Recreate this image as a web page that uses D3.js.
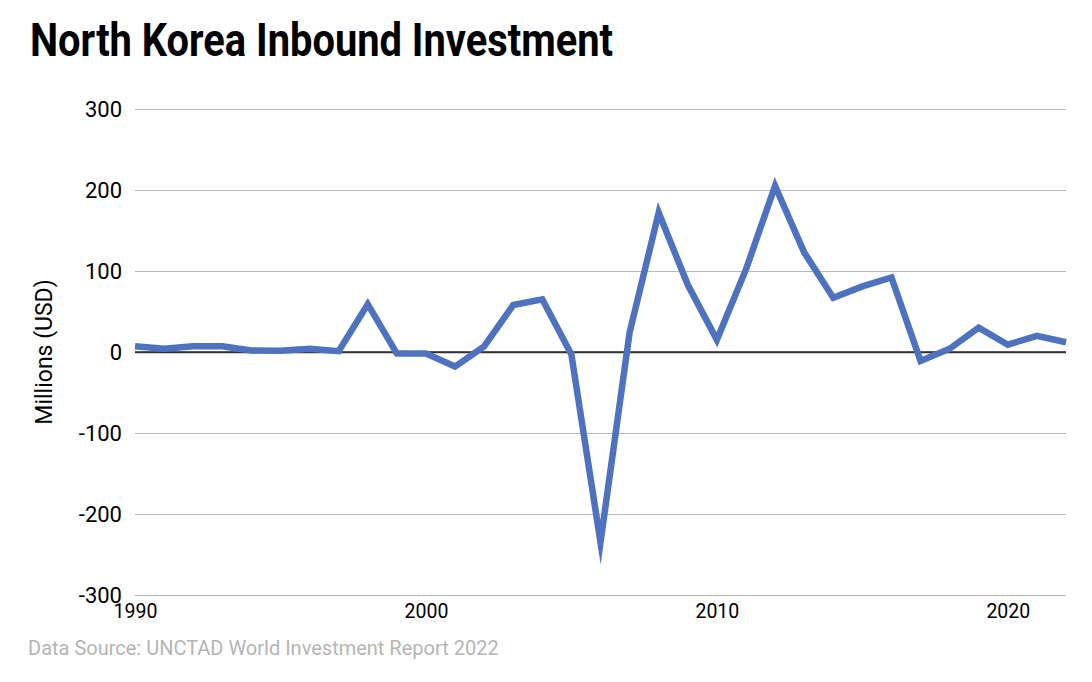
<!DOCTYPE html>
<html>
<head>
<meta charset="utf-8">
<script src="https://cdn.jsdelivr.net/npm/d3@7"></script>
<style>
  body { margin: 0; background: #fff; }
  text { font-family: Roboto, "Noto Sans", sans-serif; }
</style>
</head>
<body>
<div id="chart"></div>
<script>
// data (millions USD)
var years = [1990, 1991, 1992, 1993, 1994, 1995, 1996, 1997, 1998, 1999,
             2000, 2001, 2002, 2003, 2004, 2005, 2006, 2007, 2008, 2009,
             2010, 2011, 2012, 2013, 2014, 2015, 2016, 2017, 2018, 2019,
             2020, 2021, 2022];
var inflows = [7, 4, 7, 7, 2, 1.5, 4, 1, 59, -2,
               -2, -18, 7, 58, 65, -3, -235, 24, 172, 83,
               15, 102, 205, 123, 67, 81, 92, -11, 4, 30,
               9, 20, 12];
var yTicks = [-300, -200, -100, 0, 100, 200, 300];
var xTicks = [1990, 2000, 2010, 2020];

var W = 1092, H = 682;
var margin = {top: 109, right: 26, bottom: 87, left: 135},
    width = W - margin.left - margin.right,
    height = H - margin.top - margin.bottom;

var root = d3.select("#chart").append("svg")
    .attr("width", W)
    .attr("height", H);

// title, squeezed to look like the condensed face of the original
root.append("text")
    .attr("x", 30)
    .attr("y", 56)
    .attr("font-size", 46)
    .attr("font-weight", 700)
    .attr("textLength", 583)
    .attr("lengthAdjust", "spacingAndGlyphs")
    .attr("fill", "#000")
    .text("North Korea Inbound Investment");

root.append("text")
    .attr("x", 28)
    .attr("y", 655)
    .attr("font-size", 20)
    .attr("fill", "#b5b5b5")
    .text("Data Source: UNCTAD World Investment Report 2022");

root.append("text")
    .attr("transform", "translate(52," + (margin.top + height / 2) + ") rotate(-90)")
    .attr("text-anchor", "middle")
    .attr("font-size", 23)
    .attr("fill", "#000")
    .text("Millions (USD)");

var svg = root.append("g")
    .attr("transform", "translate(" + margin.left + "," + margin.top + ")");

var x = d3.scaleLinear()
    .domain([1990, 2022])
    .range([0, width]);

var y = d3.scaleLinear()
    .domain([-300, 300])
    .range([height, 0]);

// gridlines + y labels (plain hyphen for negatives, like the original)
var yAxis = svg.append("g")
    .call(d3.axisLeft(y).tickValues(yTicks).tickSize(-width).tickPadding(13)
      .tickFormat(function(d) { return String(d); }));
yAxis.select(".domain").remove();
yAxis.selectAll(".tick line")
    .attr("stroke", function(d) { return d === 0 ? "#333" : "#b7b7b7"; })
    .attr("stroke-width", function(d) { return d === 0 ? 1.5 : 1.2; });
yAxis.selectAll(".tick text")
    .attr("font-size", 22)
    .attr("fill", "#000")
    .style("font-family", "Roboto");

// x labels
var xAxis = svg.append("g")
    .attr("transform", "translate(0," + height + ")")
    .call(d3.axisBottom(x).tickValues(xTicks).tickSize(0).tickPadding(9)
      .tickFormat(function(d) { return String(d); }));
xAxis.select(".domain").remove();
xAxis.selectAll(".tick text")
    .attr("font-size", 19.5)
    .attr("fill", "#000")
    .style("font-family", "Roboto");

// zero line drawn again on top of grid
svg.append("line")
    .attr("x1", 0).attr("x2", width)
    .attr("y1", y(0)).attr("y2", y(0))
    .attr("stroke", "#333")
    .attr("stroke-width", 1.5);

var line = d3.line()
    .x(function(d, i) { return x(years[i]); })
    .y(function(d) { return y(d); });

svg.append("path")
    .datum(inflows)
    .attr("d", line)
    .attr("fill", "none")
    .attr("stroke", "#4e72bf")
    .attr("stroke-width", 6.5)
    .attr("stroke-linejoin", "miter")
    .attr("stroke-miterlimit", 20);
</script>
</body>
</html>
